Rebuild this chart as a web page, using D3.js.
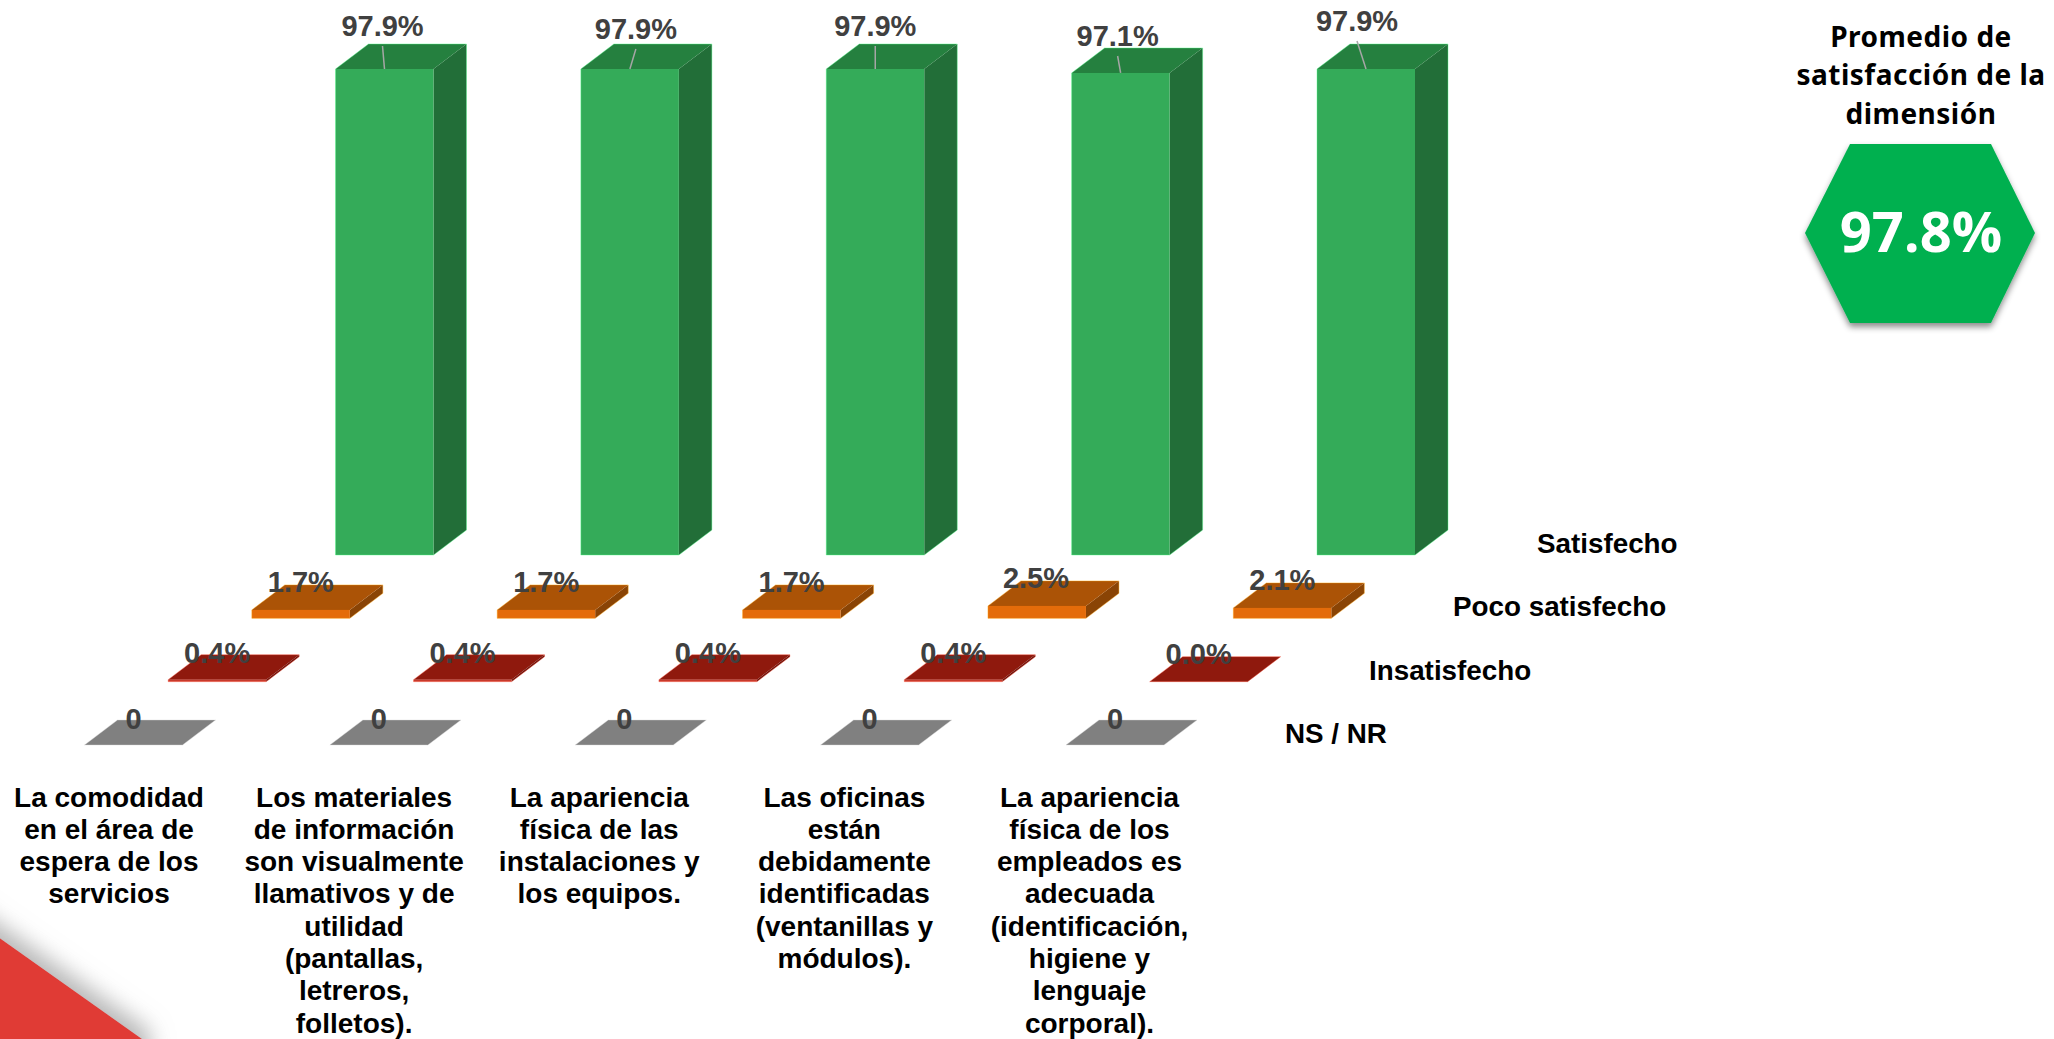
<!DOCTYPE html>
<html lang="es">
<head>
<meta charset="utf-8">
<title>Satisfacción</title>
<script src="https://cdn.jsdelivr.net/npm/d3@7/dist/d3.min.js"></script>
<style>
html,body{margin:0;padding:0;background:#fff;overflow:hidden}
svg{display:block}
text{font-family:"Liberation Sans",Arial,sans-serif;font-weight:bold}
</style>
</head>
<body>
<svg id="chart" width="2054" height="1039"></svg>
<script>
const categories = [
  ["La comodidad","en el área de","espera de los","servicios"],
  ["Los materiales","de información","son visualmente","llamativos y de","utilidad","(pantallas,","letreros,","folletos)."],
  ["La apariencia","física de las","instalaciones y","los equipos."],
  ["Las oficinas","están","debidamente","identificadas","(ventanillas y","módulos)."],
  ["La apariencia","física de los","empleados es","adecuada","(identificación,","higiene y","lenguaje","corporal)."]
];
const categoryIds = ["c1","c2","c3","c4","c5"];
const seriesNames = ["NS / NR","Insatisfecho","Poco satisfecho","Satisfecho"];
const nsnr        = [0,0,0,0,0];
const insatisfecho= [0.4,0.4,0.4,0.4,0.0];
const poco        = [1.7,1.7,1.7,2.5,2.1];
const satisfecho  = [97.9,97.9,97.9,97.1,97.9];
const seriesValues = [nsnr,insatisfecho,poco,satisfecho];
const seriesText = [
  v=>String(v),
  v=>v.toFixed(1)+"%",
  v=>v.toFixed(1)+"%",
  v=>v.toFixed(1)+"%"
];
const frontColors = ["#8c8c8c","#c8392b","#e46c0a","#34ab59"];
const topColors   = ["#808080","#8f190d","#ab5306","#25803f"];
const sideColors  = ["#6e6e6e","#6e120a","#8a4405","#226e38"];
const promedioLines = ["Promedio de","satisfacción de la","dimensión"];
const promedioValue = "97.8%";

// small manual label placement relative to each bar (layout, not data)
const labelDx = {
  0:[0,0,0,0,0],
  1:[0,0,0,0,0],
  2:[0,0,0,-1,0],
  3:[-2,6,0,-3,-9]
};
const labelBase = {
  0:[729,729,729,729,729],
  1:[663,663,663,663,664],
  2:[592,592,592,588,590],
  3:[36,39,36,46,31]
};

const svg = d3.select("#chart");
const defs = svg.append("defs");
const f1 = defs.append("filter").attr("id","triShadow").attr("x","-50%").attr("y","-50%").attr("width","200%").attr("height","200%");
f1.append("feDropShadow").attr("dx",8).attr("dy",-8).attr("stdDeviation",11).attr("flood-color","#999").attr("flood-opacity",.7);
const f2 = defs.append("filter").attr("id","hexShadow").attr("x","-20%").attr("y","-20%").attr("width","140%").attr("height","140%");
f2.append("feDropShadow").attr("dx",0).attr("dy",4).attr("stdDeviation",3).attr("flood-color","#000").attr("flood-opacity",.45);

const x = d3.scalePoint().domain(categoryIds).range([84.5,1066]);
const depthX = d3.scalePoint().domain(seriesNames).range([0,251]);
const baseY = d3.scalePoint().domain(seriesNames).range([745,555]);
const h = d3.scaleLinear().domain([0,97.9]).range([0,486]);
const barW = 98, dX = 33, dY = 25;
const poly = pts => pts.map(p=>p.join(",")).join(" ");

// Red corner decoration
svg.append("polygon").attr("points",poly([[-40,910],[142,1039],[142,1080],[-40,1080]]))
  .attr("fill","#e03a36").attr("filter","url(#triShadow)");

// Bars: drawn from back row to front row
const rows = d3.range(seriesNames.length).reverse();
rows.forEach(s=>{
  const name = seriesNames[s];
  const g = svg.append("g").attr("class","series").attr("data-series",name);
  const bars = g.selectAll("g").data(seriesValues[s]).join("g");
  bars.each(function(v,i){
    const x0 = x(categoryIds[i]) + depthX(name);
    const yB = baseY(name), yT = yB - h(v), x1 = x0 + barW;
    const b = d3.select(this);
    b.append("polygon").attr("points",poly([[x1,yB],[x1+dX,yB-dY],[x1+dX,yT-dY],[x1,yT]])).attr("fill",sideColors[s]);
    b.append("polygon").attr("points",poly([[x0,yT],[x0+dX,yT-dY],[x1+dX,yT-dY],[x1,yT]])).attr("fill",topColors[s]);
    b.append("rect").attr("x",x0).attr("y",yT).attr("width",barW).attr("height",h(v)).attr("fill",frontColors[s]);
    b.append("polygon").attr("points",poly([[x0,yB],[x0,yT],[x0+dX,yT-dY],[x1+dX,yT-dY],[x1+dX,yB-dY],[x1,yB]]))
      .attr("fill","none").attr("stroke",d3.color(frontColors[s]).brighter(1.2)).attr("stroke-opacity",.4).attr("stroke-width",1);
  });
});

// Leader lines for the tall series
const topIdx = 3;
svg.append("g").selectAll("line").data(seriesValues[topIdx]).join("line")
  .attr("x1",(v,i)=>x(categoryIds[i])+depthX(seriesNames[topIdx])+barW/2+labelDx[topIdx][i])
  .attr("y1",(v,i)=>labelBase[topIdx][i]+10)
  .attr("x2",(v,i)=>x(categoryIds[i])+depthX(seriesNames[topIdx])+barW/2)
  .attr("y2",v=>baseY(seriesNames[topIdx])-h(v))
  .attr("stroke","#a6a6a6").attr("stroke-width",1.5);

// Value labels
d3.range(seriesNames.length).forEach(s=>{
  const name = seriesNames[s];
  svg.append("g").selectAll("text").data(seriesValues[s]).join("text")
    .attr("x",(v,i)=>x(categoryIds[i])+depthX(name)+barW/2+labelDx[s][i])
    .attr("y",(v,i)=>labelBase[s][i])
    .attr("text-anchor","middle").attr("font-size",29).attr("fill","#404040")
    .text(seriesText[s]);
});

// Series axis labels (left aligned, stepping with the depth axis)
const seriesLabelX = d3.scalePoint().domain(seriesNames).range([1285,1537]);
const seriesLabelY = d3.scalePoint().domain(seriesNames).range([743,553]);
svg.append("g").selectAll("text").data(seriesNames).join("text")
  .attr("x",d=>seriesLabelX(d)).attr("y",d=>seriesLabelY(d))
  .attr("text-anchor","start").attr("font-size",27.8).attr("fill","#000").text(d=>d);

// Category labels
const catX = d3.scalePoint().domain(categoryIds).range([109,1089.5]);
const catLine = d3.scaleLinear().domain([0,7]).range([806.5,1032.5]);
const cat = svg.append("g").selectAll("text").data(categories).join("text")
  .attr("text-anchor","middle").attr("font-size",28).attr("fill","#000");
cat.each(function(lines,i){
  d3.select(this).selectAll("tspan").data(lines).join("tspan")
    .attr("x",catX(categoryIds[i])).attr("y",(d,k)=>catLine(k)).text(d=>d);
});

// Promedio panel
const panelLine = d3.scaleLinear().domain([0,2]).range([47,123.5]);
svg.append("g").selectAll("text").data(promedioLines).join("text")
  .attr("x",1921).attr("y",(d,i)=>panelLine(i)).attr("text-anchor","middle")
  .attr("font-size",28).attr("letter-spacing",.5).attr("fill","#000")
  .style("font-family",'"Noto Sans",sans-serif').text(d=>d);
svg.append("polygon").attr("points",poly([[1805,233],[1850,144],[1991,144],[2035,233],[1991,323],[1850,323]]))
  .attr("fill","#00b050").attr("filter","url(#hexShadow)");
svg.append("text").attr("x",1921).attr("y",252).attr("text-anchor","middle").attr("font-size",56)
  .attr("fill","#fff").style("font-family",'"Open Sans",sans-serif').text(promedioValue);
</script>
</body>
</html>
